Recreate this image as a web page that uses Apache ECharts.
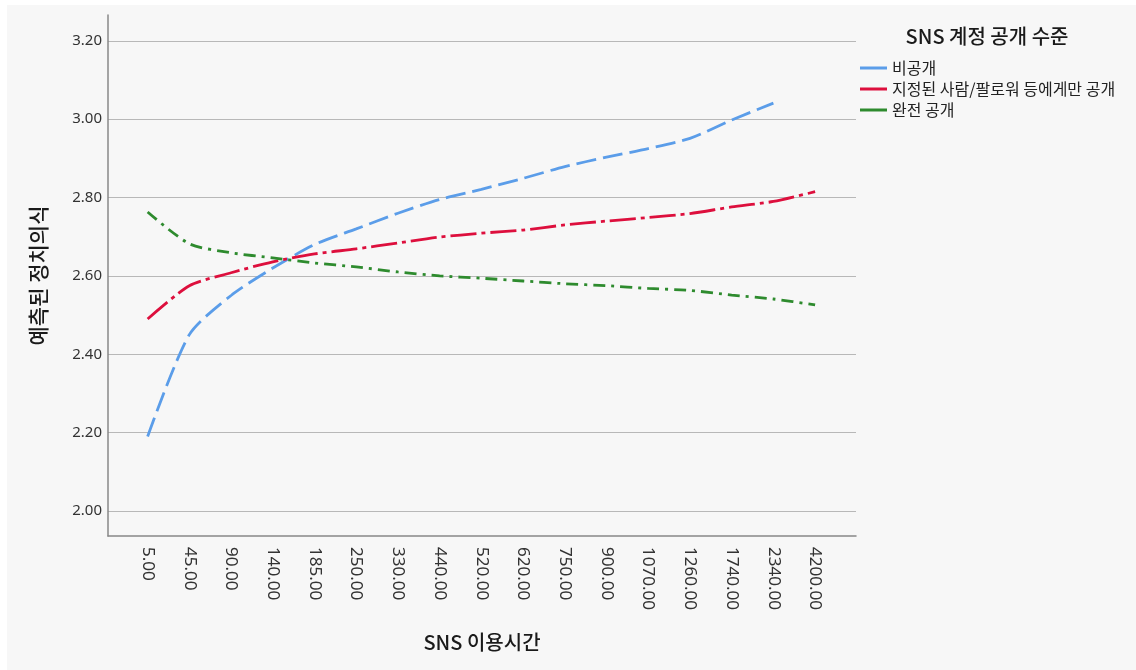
<!DOCTYPE html>
<html>
<head>
<meta charset="utf-8">
<script src="https://cdn.jsdelivr.net/npm/echarts@6/dist/echarts.min.js"></script>
<style>
html,body{margin:0;padding:0;background:#ffffff;width:1136px;height:670px;overflow:hidden;}
#c{position:absolute;left:7px;top:5px;width:1129px;height:665px;background:#f7f7f7;}
</style>
</head>
<body>
<div id="c"></div>
<script>
// SNS usage time categories (labelled ones)
var categories = [5, 45, 90, 140, 185, 250, 330, 440, 520, 620, 750, 900, 1070, 1260, 1740, 2340, 4200];
var yTicks = [2.00, 2.20, 2.40, 2.60, 2.80, 3.00, 3.20];
var seriesNames = ['비공개', '지정된 사람/팔로워 등에게만 공개', '완전 공개'];
var privateVals = [2.19, 2.45, 2.55, 2.62, 2.68, 2.72, 2.76, 2.795, 2.821, 2.849, 2.879, 2.903, 2.925, 2.951, 2.998, 3.041, null];
var limitedVals = [2.49, 2.575, 2.608, 2.636, 2.656, 2.669, 2.684, 2.699, 2.709, 2.717, 2.730, 2.740, 2.749, 2.759, 2.776, 2.790, 2.815];
var publicVals  = [2.763, 2.682, 2.659, 2.646, 2.633, 2.623, 2.610, 2.600, 2.594, 2.587, 2.580, 2.575, 2.568, 2.563, 2.551, 2.541, 2.526];

var colors = ['#5b9de9', '#dd0f3d', '#2e8b2e'];
var dashes = [[20, 7], [26, 5, 4, 5], [12, 6, 3, 6]];
var font = "'Noto Sans', 'Noto Sans CJK KR', sans-serif";
var kfont = "'Noto Sans CJK KR', 'Noto Sans', sans-serif";

function toPairs(vals) {
  var out = [];
  for (var i = 0; i < vals.length; i++) {
    if (vals[i] !== null) out.push([i, vals[i]]);
  }
  return out;
}
var idx = categories.map(function (_, i) { return i; });
var allVals = [privateVals, limitedVals, publicVals];

var chart = echarts.init(document.getElementById('c'), null, {renderer: 'canvas'});
var option = {
  animation: false,
  grid: {left: 101, top: 10, width: 748, height: 521, containLabel: false},
  legend: {
    orient: 'vertical',
    left: 848, top: 50,
    itemWidth: 27, itemHeight: 3, itemGap: 5,
    icon: 'rect',
    textStyle: {fontFamily: kfont, fontSize: 16, color: '#222'},
    data: seriesNames
  },
  graphic: [{
    type: 'text', x: 980, y: 31,
    style: {text: 'SNS 계정 공개 수준', font: "500 20px 'Noto Sans CJK KR', 'Noto Sans', sans-serif", fill: '#1a1a1a', textAlign: 'center', textVerticalAlign: 'middle'}
  }],
  xAxis: {
    type: 'value',
    min: -0.95, max: 16.98,
    name: 'SNS 이용시간',
    nameLocation: 'middle',
    nameGap: 96,
    nameTextStyle: {fontFamily: kfont, fontSize: 20, fontWeight: 500, color: '#1a1a1a'},
    axisLine: {show: true, onZero: false, lineStyle: {color: '#888', width: 1.5}},
    axisTick: {show: false, customValues: idx},
    splitLine: {show: false},
    axisLabel: {
      customValues: idx,
      rotate: -90,
      margin: 11,
      fontFamily: font, fontSize: 17, color: '#333',
      formatter: function (v) { var i = Math.round(v); return categories[i] !== undefined ? categories[i].toFixed(2) : ''; }
    }
  },
  yAxis: {
    type: 'value',
    min: 1.936, max: 3.266,
    name: '예측된 정치의식',
    nameLocation: 'middle',
    nameGap: 59,
    nameRotate: 90,
    nameTextStyle: {fontFamily: kfont, fontSize: 21, fontWeight: 500, color: '#1a1a1a'},
    axisLine: {show: true, onZero: false, lineStyle: {color: '#888', width: 1.5}},
    axisTick: {show: false, customValues: yTicks},
    splitLine: {show: true, lineStyle: {color: '#b8b8b8', width: 1}},
    axisLabel: {
      customValues: yTicks,
      margin: 6,
      fontFamily: font, fontSize: 15, color: '#333',
      formatter: function (v) { return v.toFixed(2); }
    }
  },
  series: seriesNames.map(function (n, k) {
    return {
      name: n, type: 'line',
      data: toPairs(allVals[k]),
      smooth: 0.25,
      showSymbol: false, symbol: 'none',
      color: colors[k],
      lineStyle: {color: colors[k], width: 2.8, type: dashes[k]}
    };
  })
};
chart.setOption(option);
</script>
</body>
</html>
